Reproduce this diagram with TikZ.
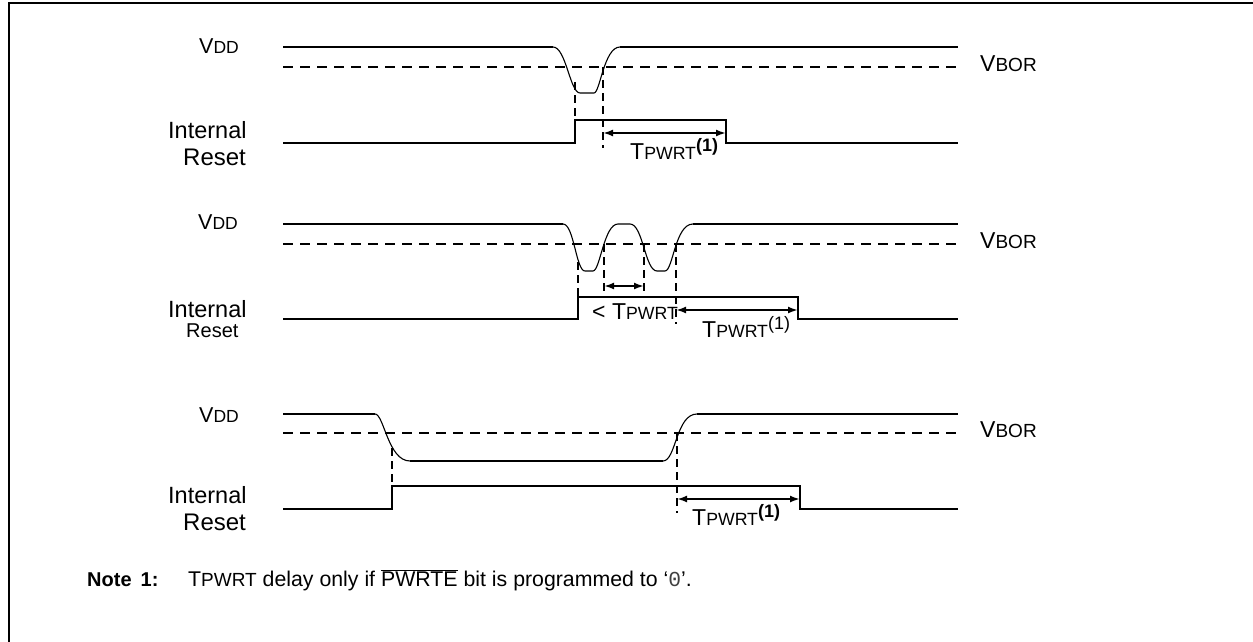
\documentclass[tikz,border=0pt]{standalone}
\usepackage{fontspec}
\setmainfont{Liberation Sans}
\newfontfamily\monofont{Liberation Mono}
\usetikzlibrary{arrows.meta}
\newcommand\fsz[1]{\fontsize{#1}{#1}\selectfont}
\newcommand\vdd{{\fsz{21.5}V\fsz{17.5}DD}}
\newcommand\vbor{{\fsz{23}V\fsz{19}BOR}}
\newcommand\tpw{{\fsz{23}T\fsz{17.7}PWRT}}
\begin{document}
\begin{tikzpicture}[x=1pt,y=-1pt,
  wave/.style={line width=2pt},
  curve/.style={line width=1.1pt},
  thr/.style={line width=2pt,dash pattern=on 10pt off 7pt},
  vdash/.style={line width=2pt,dash pattern=on 8pt off 5pt},
  dim/.style={line width=2pt,{Latex[length=10pt,width=7pt]}-{Latex[length=10pt,width=7pt]}},
  lbl/.style={inner sep=0pt,anchor=base west},
]
\useasboundingbox (0,0) rectangle (1253,642);
\draw[line width=2pt] (8.8,642) -- (8.8,2.7) -- (1253,2.7);

% ---------- Row 1 ----------
\node[lbl] (v1) at (199,54) {\vdd};
\node[lbl] (i1) at (168,138) {\fsz{23.5}Internal};
\node[lbl] (r1) at (183,165) {\fsz{24}Reset};
\node[lbl] (b1) at (980,71) {\vbor};
\draw[wave] (283,47) -- (553,47);
\draw[curve] (553,47) .. controls (566,47) and (570,93) .. (580,93) -- (594,93) .. controls (600,93) and (604,47) .. (620,47);
\draw[wave] (620,47) -- (958,47);
\draw[thr] (283,67) -- (958,67);
\coordinate (p1a) at (575,82);
\coordinate (p1b) at (575,120);
\coordinate (p1c) at (603,67);
\coordinate (p1d) at (603,148);
\draw[vdash] (p1a) -- (p1b);
\draw[vdash] (p1c) -- (p1d);
\draw[wave] (283,143) -- (575,143) -- (575,120) -- (726,120) -- (726,143) -- (958,143);
\coordinate (a1l) at (603,133);
\coordinate (a1r) at (726,133);
\draw[dim] (a1l) -- (a1r);
\node[lbl] (t1) at (630,159) {\tpw\raisebox{8pt}{\fsz{18}\bfseries(1)}};

% ---------- Row 2 ----------
\node[lbl] (v2) at (198,229) {\vdd};
\node[lbl] (i2) at (168,317) {\fsz{23.5}Internal};
\node[lbl] (r2) at (186,337) {\fsz{20}Reset};
\node[lbl] (b2) at (980,248) {\vbor};
\draw[wave] (283,224) -- (563,224);
\draw[curve] (563,224) .. controls (574,224) and (576,271) .. (585,271) -- (593,271)
  .. controls (600,271) and (604,224) .. (618,224) -- (630,224)
  .. controls (643,224) and (645,271) .. (657,271) -- (665,271)
  .. controls (673,271) and (675,224) .. (693,224);
\draw[wave] (693,224) -- (958,224);
\draw[thr] (283,244) -- (958,244);
\coordinate (p2a) at (578,262);
\coordinate (p2b) at (578,297);
\coordinate (p2c) at (604,244);
\coordinate (p2d) at (604,291);
\coordinate (p2e) at (644,244);
\coordinate (p2f) at (644,291);
\coordinate (p2g) at (676,244);
\coordinate (p2h) at (676,324);
\draw[vdash] (p2a) -- (p2b);
\draw[vdash] (p2c) -- (p2d);
\draw[vdash] (p2e) -- (p2f);
\draw[vdash] (p2g) -- (p2h);
\draw[wave] (283,319) -- (578,319) -- (578,297) -- (798,297) -- (798,319) -- (958,319);
\coordinate (a2l) at (604,286);
\coordinate (a2r) at (644,286);
\draw[dim] (a2l) -- (a2r);
\coordinate (a3l) at (676,310);
\coordinate (a3r) at (798,310);
\draw[dim] (a3l) -- (a3r);
\node[lbl] (t2) at (592,319) {\fsz{23}< \tpw};
\node[lbl] (t3) at (702,337) {\tpw\raisebox{8pt}{\fsz{18}(1)}};

% ---------- Row 3 ----------
\node[lbl] (v3) at (199,422) {\vdd};
\node[lbl] (i3) at (168,503) {\fsz{23.5}Internal};
\node[lbl] (r3) at (183,530) {\fsz{24}Reset};
\node[lbl] (b3) at (980,437) {\vbor};
\draw[wave] (283,414) -- (375,414);
\draw[curve] (375,414) .. controls (384,414) and (388,461) .. (410,461);
\draw[wave] (410,461) -- (663,461);
\draw[curve] (663,461) .. controls (676,461) and (676,414) .. (697,414);
\draw[wave] (697,414) -- (958,414);
\draw[thr] (283,433) -- (958,433);
\coordinate (p3a) at (392,448);
\coordinate (p3b) at (392,486);
\coordinate (p3c) at (677,433);
\coordinate (p3d) at (677,513);
\draw[vdash] (p3a) -- (p3b);
\draw[vdash] (p3c) -- (p3d);
\draw[wave] (283,509) -- (392,509) -- (392,486) -- (800,486) -- (800,509) -- (958,509);
\coordinate (a4l) at (677,499);
\coordinate (a4r) at (800,499);
\draw[dim] (a4l) -- (a4r);
\node[lbl] (t4) at (692,525) {\tpw\raisebox{8pt}{\fsz{18}\bfseries(1)}};

% ---------- Note ----------
\node[lbl] (n0) at (87,586) {\fsz{20}\bfseries Note\hspace{9pt}1:};
\node[lbl] (n1) at (188,586) {\fsz{21.3}T\fsz{19}PWRT\fsz{21.3} delay only if $\overline{\hbox{\fsz{21.3}PWRTE}}$ bit is programmed to ‘{\monofont\color{black!75}0}’.};
\end{tikzpicture}
\end{document}
